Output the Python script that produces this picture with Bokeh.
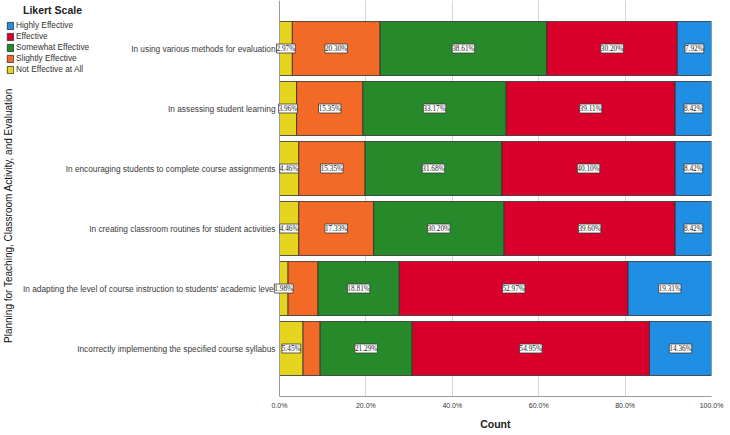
import numpy as np
from bokeh.plotting import figure
from bokeh.core.properties import value
from bokeh.models import (ColumnDataSource, Range1d, FixedTicker, Legend, LegendItem,
                          LabelSet, Label, Span, Title)
from bokeh.embed import file_html
from bokeh.resources import INLINE

# Survey items, top to bottom
items = [
    "In using various methods for evaluation",
    "In assessing student learning",
    "In encouraging students to complete course assignments",
    "In creating classroom routines for student activities",
    "In adapting the level of course instruction to students' academic level",
    "Incorrectly implementing the specified course syllabus",
]

# Percentage of responses per Likert level (row order as in `items`)
not_effective = [2.97, 3.96, 4.46, 4.46, 1.98, 5.45]
slightly_effective = [20.30, 15.35, 15.35, 17.33, 6.93, 3.96]
somewhat_effective = [38.61, 33.17, 31.68, 30.20, 18.81, 21.29]
effective = [30.20, 39.11, 40.10, 39.60, 52.97, 54.95]
highly_effective = [7.92, 8.42, 8.42, 8.42, 19.31, 14.36]

# segments whose value label is not printed
slightly_labeled = [True, True, True, True, False, False]

x_ticks = [0, 20, 40, 60, 80, 100]
x_tick_labels = ["0.0%", "20.0%", "40.0%", "60.0%", "80.0%", "100.0%"]

levels = ["Not Effective at All", "Slightly Effective", "Somewhat Effective",
          "Effective", "Highly Effective"]
series = [not_effective, slightly_effective, somewhat_effective, effective, highly_effective]
colors = ["#e6d51e", "#f26a25", "#278a2a", "#d8002a", "#1f8ee3"]
label_flags = [[True] * 6, slightly_labeled, [True] * 6, [True] * 6, [True] * 6]

n = len(items)
ypos = [float(n - i) for i in range(n)]  # top row highest

# frame geometry: the left margin (names, legend, title) lives inside the frame
FRAME_W, FRAME_H = 711, 396
ZERO_PX = 279
px_per_x = (FRAME_W - ZERO_PX) / 100.0
x_start = -ZERO_PX / px_per_x
y_top = n + 0.8
px_per_y = FRAME_H / (y_top - 0.2)

p = figure(width=730, height=435, output_backend="svg", toolbar_location=None,
           x_range=Range1d(x_start, 100), y_range=Range1d(0.2, y_top),
           y_axis_location=None,
           min_border_left=0, min_border_right=730 - FRAME_W, min_border_top=0,
           min_border_bottom=435 - FRAME_H)
p.outline_line_color = None
p.background_fill_color = "white"
p.border_fill_color = "white"

p.xgrid.ticker = FixedTicker(ticks=x_ticks)
p.xgrid.grid_line_color = "#d6d6d6"
p.ygrid.grid_line_color = None

# y axis line at 0%
p.add_layout(Span(location=0, dimension="height", line_color="#9a9a9a", line_width=1))

renderers = {}
left = np.zeros(n)
for name, vals, col, flags in zip(levels, series, colors, label_flags):
    vals = np.array(vals, dtype=float)
    right = left + vals
    src = ColumnDataSource(dict(y=ypos, left=left, right=right))
    r = p.hbar(y="y", left="left", right="right", height=0.9, source=src,
               fill_color=col, line_color="#2e2e2e", line_width=0.8)
    renderers[name] = r
    mids = (left + right) / 2
    lab_src = ColumnDataSource(dict(
        x=[m for m, f in zip(mids, flags) if f],
        y=[yy for yy, f in zip(ypos, flags) if f],
        txt=[f"{v:.2f}%" for v, f in zip(vals, flags) if f],
    ))
    p.add_layout(LabelSet(x="x", y="y", text="txt", source=lab_src,
                          text_align="center", text_baseline="middle",
                          text_font="Liberation Sans", text_font_size="7.3px",
                          text_color="#222222",
                          background_fill_color="white",
                          border_line_color="#3a3a3a", border_line_width=0.8))
    left = right

# item names, right-aligned against the 0% line
p.text(x=[-4 / px_per_x] * n, y=ypos, text=items, text_align="right",
       text_baseline="middle", text_font=value("Liberation Sans"),
       text_font_size="8.3px", text_color="#3a3a3a")

# x axis
xa = p.xaxis[0]
xa.bounds = (0, 100)
xa.ticker = FixedTicker(ticks=x_ticks)
xa.major_label_overrides = {t: s for t, s in zip(x_ticks, x_tick_labels)}
xa.major_label_text_font = "Liberation Sans"
xa.major_label_text_font_size = "7px"
xa.major_label_text_color = "#333333"
xa.major_tick_out = 0
xa.major_tick_in = 0
xa.minor_tick_out = 0
xa.minor_tick_in = 0
xa.axis_line_color = "#9a9a9a"
xa.major_label_standoff = 5

# x title centred under the 0-100% span
p.add_layout(Title(text="Count", align="right", offset=(FRAME_W - ZERO_PX) / 2 - 15,
                   standoff=8, text_font="Liberation Sans", text_font_size="10.5px",
                   text_font_style="bold", text_color="#222222"), "below")

# rotated y title
p.add_layout(Label(x=x_start + 8 / px_per_x, y=y_top - 215 / px_per_y,
                   text="Planning for Teaching, Classroom Activity, and Evaluation",
                   angle=np.pi / 2, text_align="center", text_baseline="middle",
                   text_font="Liberation Sans", text_font_size="10px",
                   text_color="#111111"))

# legend title
p.add_layout(Label(x=x_start + 52 / px_per_x, y=y_top - 9 / px_per_y,
                   text="Likert Scale", text_align="center", text_baseline="middle",
                   text_font="Liberation Sans", text_font_size="10.5px",
                   text_font_style="bold", text_color="#222222"))

legend_order = ["Highly Effective", "Effective", "Somewhat Effective",
                "Slightly Effective", "Not Effective at All"]
legend = Legend(items=[LegendItem(label=nm, renderers=[renderers[nm]]) for nm in legend_order],
                location=(6, FRAME_H - 19 - 55),
                padding=0, margin=0, spacing=1, glyph_width=8, glyph_height=9,
                label_height=9, label_standoff=2,
                label_text_font="Liberation Sans", label_text_font_size="8.3px",
                label_text_color="#333333",
                border_line_color=None, background_fill_alpha=0)
p.add_layout(legend)

open("out.html", "w").write(file_html(p, INLINE))
